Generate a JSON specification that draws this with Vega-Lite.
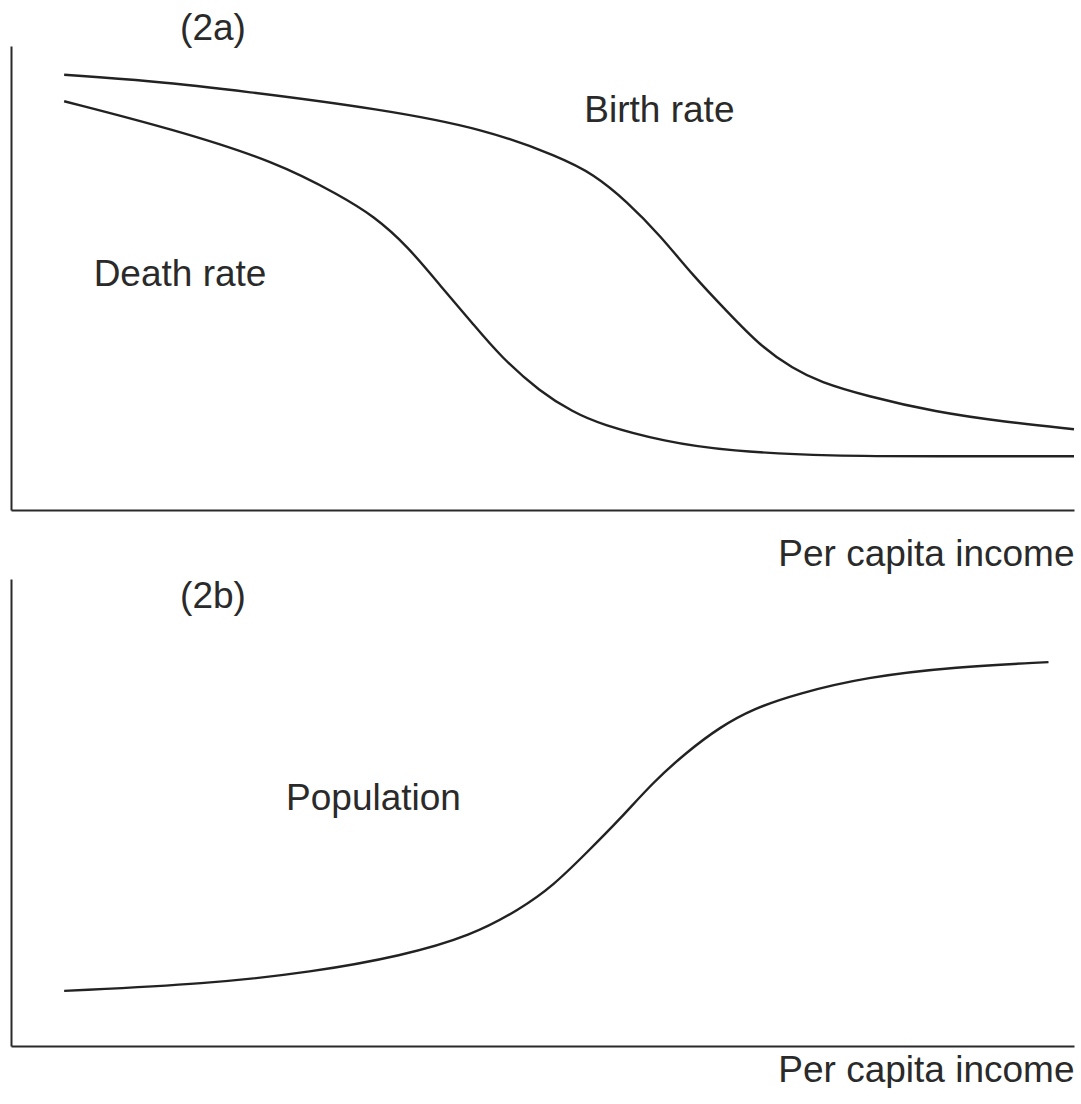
{
  "$schema": "https://vega.github.io/schema/vega-lite/v6.json",
  "background": "white",
  "padding": {"left": 11, "top": 9, "right": 7, "bottom": 0},
  "bounds": "flush",
  "spacing": 69,
  "config": {
    "view": {"stroke": null},
    "font": "Liberation Sans",
    "axis": {
      "domainColor": "#2a2a2a",
      "domainWidth": 2,
      "ticks": false,
      "labels": false,
      "grid": false,
      "titleFont": "Liberation Sans",
      "titleFontWeight": "normal",
      "titleFontSize": 37,
      "titleColor": "#2a2a2a"
    }
  },
  "datasets": {
    "rates": [
      {"series": "Birth rate", "income": 5.0, "rate": 93.8},
      {"series": "Birth rate", "income": 13.1, "rate": 92.5},
      {"series": "Birth rate", "income": 21.8, "rate": 90.3},
      {"series": "Birth rate", "income": 34.8, "rate": 86.4},
      {"series": "Birth rate", "income": 44.6, "rate": 82.1},
      {"series": "Birth rate", "income": 51.6, "rate": 76.1},
      {"series": "Birth rate", "income": 54.8, "rate": 72.4},
      {"series": "Birth rate", "income": 57.9, "rate": 66.6},
      {"series": "Birth rate", "income": 61.1, "rate": 59.1},
      {"series": "Birth rate", "income": 64.2, "rate": 50.4},
      {"series": "Birth rate", "income": 67.4, "rate": 42.7},
      {"series": "Birth rate", "income": 70.5, "rate": 35.3},
      {"series": "Birth rate", "income": 73.6, "rate": 30.4},
      {"series": "Birth rate", "income": 76.1, "rate": 27.6},
      {"series": "Birth rate", "income": 80.4, "rate": 24.6},
      {"series": "Birth rate", "income": 87.0, "rate": 21.1},
      {"series": "Birth rate", "income": 93.5, "rate": 19.0},
      {"series": "Birth rate", "income": 100.0, "rate": 17.4},
      {"series": "Death rate", "income": 5.0, "rate": 88.1},
      {"series": "Death rate", "income": 15.2, "rate": 82.1},
      {"series": "Death rate", "income": 25.0, "rate": 75.0},
      {"series": "Death rate", "income": 31.0, "rate": 67.7},
      {"series": "Death rate", "income": 34.1, "rate": 63.4},
      {"series": "Death rate", "income": 37.3, "rate": 56.9},
      {"series": "Death rate", "income": 40.4, "rate": 48.3},
      {"series": "Death rate", "income": 43.5, "rate": 40.0},
      {"series": "Death rate", "income": 46.0, "rate": 33.2},
      {"series": "Death rate", "income": 49.8, "rate": 25.4},
      {"series": "Death rate", "income": 52.9, "rate": 21.1},
      {"series": "Death rate", "income": 55.4, "rate": 18.5},
      {"series": "Death rate", "income": 61.5, "rate": 14.7},
      {"series": "Death rate", "income": 67.5, "rate": 12.7},
      {"series": "Death rate", "income": 77.2, "rate": 11.6},
      {"series": "Death rate", "income": 87.0, "rate": 11.6},
      {"series": "Death rate", "income": 100.0, "rate": 11.6}
    ],
    "rateLabels": [
      {"label": "(2a)", "income": 19.0, "rate": 103.7},
      {"label": "Birth rate", "income": 61.0, "rate": 86.0},
      {"label": "Death rate", "income": 15.9, "rate": 50.6}
    ],
    "population": [
      {"income": 5.0, "pop": 11.8},
      {"income": 18.5, "pop": 13.3},
      {"income": 28.3, "pop": 15.8},
      {"income": 36.8, "pop": 19.3},
      {"income": 43.3, "pop": 23.6},
      {"income": 47.9, "pop": 29.3},
      {"income": 51.0, "pop": 34.3},
      {"income": 54.2, "pop": 41.5},
      {"income": 57.3, "pop": 48.6},
      {"income": 60.4, "pop": 56.5},
      {"income": 63.6, "pop": 63.0},
      {"income": 66.7, "pop": 68.3},
      {"income": 69.8, "pop": 72.2},
      {"income": 73.9, "pop": 75.4},
      {"income": 80.4, "pop": 79.0},
      {"income": 88.9, "pop": 81.2},
      {"income": 97.6, "pop": 82.2}
    ],
    "popLabels": [
      {"label": "(2b)", "income": 19.0, "pop": 96.1},
      {"label": "Population", "income": 34.1, "pop": 52.9}
    ]
  },
  "vconcat": [
    {
      "width": 1063,
      "height": 464,
      "layer": [
        {
          "data": {"name": "rates"},
          "mark": {"type": "line", "interpolate": "basis", "color": "#222222", "strokeWidth": 2.4, "clip": false},
          "encoding": {
            "x": {"field": "income", "type": "quantitative", "scale": {"domain": [0, 100], "nice": false},
                  "axis": {"title": "Per capita income", "titleAnchor": "end", "titlePadding": 26, "domain": true}},
            "y": {"field": "rate", "type": "quantitative", "scale": {"domain": [0, 100], "nice": false},
                  "axis": {"title": null, "domain": true}},
            "detail": {"field": "series", "type": "nominal"}
          }
        },
        {
          "data": {"name": "rateLabels"},
          "mark": {"type": "text", "fontSize": 37, "font": "Liberation Sans", "color": "#2a2a2a", "align": "center", "baseline": "middle", "clip": false},
          "encoding": {
            "x": {"field": "income", "type": "quantitative"},
            "y": {"field": "rate", "type": "quantitative"},
            "text": {"field": "label", "type": "nominal"}
          }
        }
      ]
    },
    {
      "width": 1063,
      "height": 467,
      "layer": [
        {
          "data": {"name": "population"},
          "mark": {"type": "line", "interpolate": "basis", "color": "#222222", "strokeWidth": 2.4, "clip": false},
          "encoding": {
            "x": {"field": "income", "type": "quantitative", "scale": {"domain": [0, 100], "nice": false},
                  "axis": {"title": "Per capita income", "titleAnchor": "end", "titlePadding": 6, "domain": true}},
            "y": {"field": "pop", "type": "quantitative", "scale": {"domain": [0, 100], "nice": false},
                  "axis": {"title": null, "domain": true}}
          }
        },
        {
          "data": {"name": "popLabels"},
          "mark": {"type": "text", "fontSize": 37, "font": "Liberation Sans", "color": "#2a2a2a", "align": "center", "baseline": "middle", "clip": false},
          "encoding": {
            "x": {"field": "income", "type": "quantitative"},
            "y": {"field": "pop", "type": "quantitative"},
            "text": {"field": "label", "type": "nominal"}
          }
        }
      ]
    }
  ]
}
